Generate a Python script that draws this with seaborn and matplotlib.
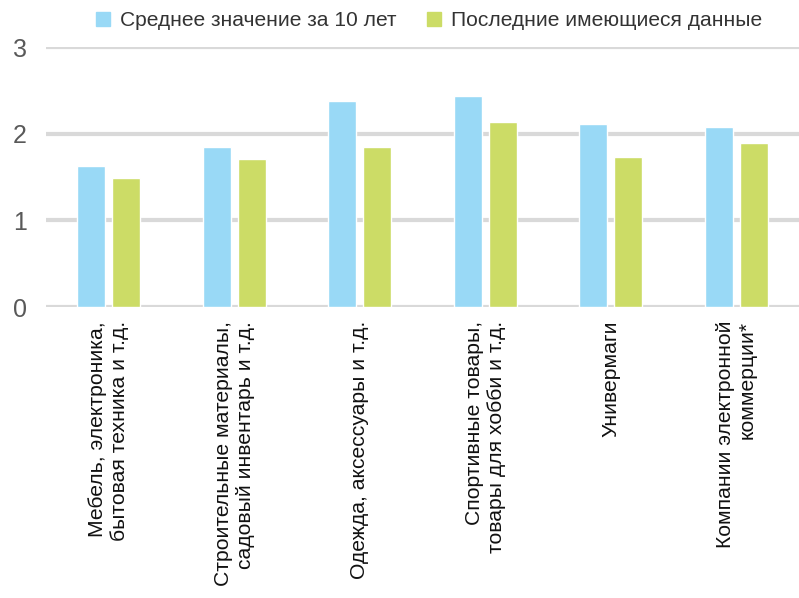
import matplotlib
matplotlib.use("Agg")
import matplotlib.pyplot as plt
import seaborn as sns
import pandas as pd

categories = [
    "Мебель, электроника,\nбытовая техника и т.д.",
    "Строительные материалы,\nсадовый инвентарь и т.д.",
    "Одежда, аксессуары и т.д.",
    "Спортивные товары,\nтовары для хобби и т.д.",
    "Универмаги",
    "Компании электронной\nкоммерции*",
]
series_names = ["Среднее значение за 10 лет", "Последние имеющиеся данные"]
avg_10y = [1.63, 1.85, 2.38, 2.44, 2.11, 2.08]
latest = [1.49, 1.71, 1.85, 2.14, 1.73, 1.89]
y_ticks = [0, 1, 2, 3]

colors = ["#99D9F6", "#CCDC66"]

df = pd.DataFrame({
    "category": categories * 2,
    "series": [series_names[0]] * len(categories) + [series_names[1]] * len(categories),
    "value": avg_10y + latest,
})

sns.set_theme(style="white")
plt.rcParams["font.family"] = ["Liberation Sans", "DejaVu Sans"]

fig = plt.figure(figsize=(7.99, 5.98), dpi=100)
ax = fig.add_axes([0.0576, 0.4866, 0.9424, 0.4348])

sns.barplot(data=df, x="category", y="value", hue="series", order=categories,
            hue_order=series_names, palette=colors, width=0.56, gap=0.2,
            saturation=1, ax=ax, legend=False, zorder=3)

ax.set_xlim(-0.5, len(categories) - 0.5)
ax.set_ylim(0, 3)
ax.set_yticks(y_ticks)
ax.set_yticklabels([str(t) for t in y_ticks], fontsize=18, color="#595959")
ax.yaxis.grid(True, color="#D9D9D9", linewidth=3, zorder=0)
ax.set_axisbelow(True)
for s in ax.spines.values():
    s.set_visible(False)
ax.tick_params(axis="both", length=0)
ax.tick_params(axis="y", pad=14)
ax.set_xlabel("")
ax.set_ylabel("")
ax.set_xticks(range(len(categories)))
ax.set_xticklabels(categories, rotation=90, fontsize=15.2, color="#111111",
                   ha="center", va="top", multialignment="right", linespacing=1.2)
ax.tick_params(axis="x", pad=10)

handles = [plt.Rectangle((0, 0), 1, 1, color=c) for c in colors]
fig.legend(handles, series_names, loc="center", bbox_to_anchor=(0.537, 0.965),
           ncol=2, frameon=False, fontsize=15.1, handlelength=0.65, handleheight=0.65,
           handletextpad=0.45, columnspacing=1.5, labelcolor="#333333")

fig.savefig("out.png", dpi=100)
